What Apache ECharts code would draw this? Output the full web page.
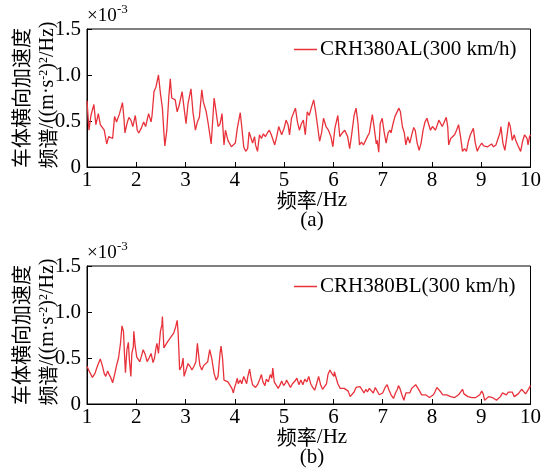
<!DOCTYPE html>
<html>
<head>
<meta charset="utf-8">
<script src="https://cdn.jsdelivr.net/npm/echarts@6.0.0/dist/echarts.min.js"></script>
<style>
html,body{margin:0;padding:0;background:#fff;}
#chart{width:544px;height:471px;}
</style>
</head>
<body>
<div id="chart"></div>
<script>
// ---- data (PSD in units of 1e-3 (m/s^2)^2/Hz) ----
const seriesNames = ['CRH380AL(300 km/h)', 'CRH380BL(300 km/h)'];
const panelLabels = ['(a)', '(b)'];
const xAxisTitle = '频率/Hz';
const yTitleLine1 = '车体横向加速度';
const yTickLabels = ['0', '0.5', '1.0', '1.5'];

const freqA = [1.00,1.04,1.08,1.14,1.18,1.23,1.27,1.31,1.35,1.40,1.44,1.48,1.52,1.56,1.60,1.66,1.72,1.75,1.77,1.81,1.85,1.89,1.93,1.98,2.02,2.05,2.10,2.15,2.19,2.25,2.30,2.32,2.36,2.40,2.45,2.49,2.53,2.56,2.58,2.62,2.66,2.69,2.72,2.76,2.79,2.83,2.87,2.93,2.97,3.01,3.05,3.11,3.15,3.20,3.24,3.28,3.33,3.36,3.42,3.46,3.52,3.58,3.62,3.66,3.70,3.74,3.78,3.81,3.86,3.93,3.97,4.01,4.05,4.11,4.14,4.18,4.22,4.26,4.29,4.31,4.36,4.40,4.42,4.46,4.50,4.54,4.58,4.62,4.66,4.70,4.74,4.78,4.81,4.85,4.89,4.95,5.00,5.04,5.08,5.11,5.15,5.19,5.23,5.27,5.31,5.35,5.39,5.43,5.47,5.51,5.55,5.60,5.64,5.68,5.72,5.76,5.80,5.85,5.90,5.95,5.99,6.03,6.09,6.13,6.18,6.23,6.29,6.33,6.37,6.42,6.46,6.50,6.53,6.57,6.61,6.65,6.69,6.73,6.79,6.83,6.87,6.89,6.92,6.95,6.99,7.03,7.07,7.11,7.15,7.17,7.21,7.25,7.29,7.33,7.36,7.40,7.44,7.47,7.51,7.55,7.59,7.63,7.66,7.70,7.74,7.78,7.82,7.86,7.90,7.93,7.97,8.01,8.05,8.07,8.11,8.14,8.18,8.21,8.25,8.29,8.32,8.34,8.38,8.42,8.46,8.50,8.54,8.58,8.62,8.66,8.70,8.74,8.78,8.84,8.88,8.92,8.96,9.01,9.05,9.09,9.13,9.17,9.21,9.25,9.30,9.33,9.38,9.40,9.44,9.48,9.52,9.56,9.59,9.63,9.67,9.70,9.74,9.78,9.80,9.84,9.88,9.93,9.95,9.98,10.00];
const valA = [0.72,0.40,0.56,0.68,0.46,0.58,0.46,0.44,0.40,0.25,0.33,0.35,0.31,0.55,0.49,0.58,0.70,0.53,0.37,0.47,0.54,0.51,0.44,0.56,0.40,0.37,0.42,0.49,0.44,0.58,0.49,0.56,0.82,0.87,1.00,0.80,0.64,0.38,0.23,0.40,0.76,0.96,0.75,0.77,0.73,0.60,0.67,0.82,0.64,0.47,0.69,0.85,0.60,0.40,0.49,0.54,0.84,0.71,0.60,0.47,0.25,0.75,0.60,0.44,0.47,0.58,0.24,0.40,0.29,0.22,0.22,0.26,0.42,0.59,0.44,0.22,0.17,0.20,0.38,0.37,0.26,0.33,0.24,0.17,0.35,0.31,0.36,0.33,0.37,0.40,0.35,0.37,0.24,0.33,0.44,0.35,0.42,0.51,0.46,0.35,0.53,0.51,0.64,0.49,0.40,0.47,0.51,0.35,0.60,0.56,0.64,0.73,0.60,0.44,0.28,0.37,0.53,0.44,0.40,0.33,0.22,0.42,0.56,0.33,0.37,0.40,0.33,0.20,0.35,0.56,0.64,0.47,0.24,0.27,0.24,0.22,0.33,0.37,0.57,0.42,0.25,0.29,0.16,0.47,0.53,0.38,0.26,0.37,0.40,0.37,0.47,0.55,0.57,0.64,0.60,0.44,0.37,0.24,0.33,0.26,0.35,0.43,0.40,0.26,0.18,0.26,0.40,0.49,0.53,0.47,0.40,0.44,0.46,0.40,0.46,0.51,0.49,0.44,0.49,0.54,0.44,0.24,0.31,0.29,0.35,0.40,0.46,0.33,0.17,0.20,0.17,0.28,0.35,0.42,0.26,0.17,0.22,0.26,0.23,0.22,0.22,0.22,0.25,0.22,0.24,0.29,0.37,0.44,0.26,0.18,0.33,0.49,0.44,0.29,0.35,0.29,0.24,0.26,0.17,0.28,0.35,0.31,0.24,0.33,0.35];

const freqB = [1.00,1.05,1.11,1.16,1.21,1.27,1.31,1.35,1.38,1.42,1.44,1.48,1.52,1.56,1.60,1.64,1.68,1.71,1.74,1.76,1.78,1.81,1.84,1.86,1.89,1.91,1.94,1.95,1.98,2.01,2.03,2.07,2.10,2.14,2.18,2.22,2.26,2.30,2.34,2.37,2.40,2.42,2.45,2.49,2.52,2.53,2.56,2.60,2.64,2.68,2.72,2.76,2.80,2.83,2.85,2.88,2.92,2.95,2.97,3.01,3.05,3.09,3.13,3.17,3.21,3.24,3.27,3.29,3.33,3.37,3.41,3.45,3.49,3.53,3.58,3.62,3.66,3.70,3.72,3.75,3.78,3.82,3.86,3.90,3.94,3.97,3.99,4.02,4.05,4.07,4.11,4.14,4.18,4.21,4.24,4.26,4.30,4.33,4.36,4.40,4.42,4.46,4.50,4.54,4.57,4.61,4.64,4.68,4.72,4.75,4.77,4.80,4.84,4.88,4.92,4.95,4.99,5.03,5.05,5.09,5.13,5.17,5.22,5.26,5.30,5.34,5.38,5.42,5.46,5.50,5.54,5.58,5.62,5.66,5.70,5.74,5.78,5.82,5.86,5.89,5.93,5.97,6.01,6.02,6.06,6.09,6.11,6.14,6.18,6.22,6.26,6.30,6.34,6.38,6.42,6.46,6.50,6.54,6.58,6.62,6.66,6.69,6.73,6.77,6.81,6.85,6.89,6.93,6.96,7.00,7.05,7.09,7.13,7.17,7.22,7.26,7.30,7.32,7.35,7.39,7.43,7.47,7.51,7.55,7.59,7.63,7.67,7.71,7.75,7.79,7.83,7.87,7.91,7.95,7.99,8.03,8.06,8.10,8.14,8.18,8.22,8.26,8.30,8.34,8.38,8.42,8.46,8.50,8.54,8.58,8.62,8.65,8.69,8.73,8.77,8.81,8.85,8.89,8.93,8.97,9.01,9.04,9.07,9.11,9.15,9.19,9.23,9.27,9.31,9.35,9.39,9.43,9.47,9.51,9.55,9.59,9.63,9.67,9.71,9.75,9.79,9.82,9.86,9.90,9.93,9.97,10.00];
const valB = [0.41,0.35,0.29,0.33,0.41,0.49,0.42,0.33,0.30,0.36,0.33,0.29,0.23,0.32,0.42,0.50,0.66,0.85,0.79,0.55,0.34,0.59,0.67,0.48,0.30,0.55,0.62,0.79,0.62,0.51,0.53,0.46,0.51,0.59,0.54,0.46,0.50,0.55,0.45,0.50,0.61,0.66,0.55,0.79,0.86,0.95,0.61,0.62,0.68,0.71,0.74,0.77,0.84,0.91,0.77,0.37,0.41,0.50,0.30,0.37,0.44,0.41,0.37,0.41,0.46,0.66,0.51,0.42,0.37,0.42,0.41,0.46,0.59,0.50,0.33,0.26,0.30,0.55,0.63,0.50,0.26,0.28,0.24,0.22,0.17,0.12,0.17,0.22,0.28,0.22,0.26,0.22,0.30,0.26,0.22,0.29,0.38,0.28,0.21,0.22,0.18,0.21,0.26,0.32,0.24,0.20,0.27,0.24,0.32,0.28,0.39,0.24,0.22,0.17,0.21,0.25,0.20,0.23,0.26,0.24,0.18,0.22,0.25,0.28,0.21,0.26,0.21,0.27,0.24,0.30,0.22,0.18,0.15,0.22,0.30,0.21,0.16,0.15,0.22,0.32,0.37,0.33,0.30,0.35,0.35,0.22,0.24,0.17,0.18,0.17,0.16,0.14,0.08,0.07,0.13,0.18,0.16,0.19,0.17,0.12,0.16,0.13,0.17,0.15,0.12,0.18,0.16,0.10,0.11,0.12,0.18,0.21,0.15,0.10,0.06,0.12,0.16,0.20,0.17,0.10,0.04,0.12,0.11,0.12,0.17,0.18,0.21,0.20,0.14,0.10,0.11,0.10,0.08,0.07,0.06,0.10,0.13,0.18,0.16,0.13,0.10,0.08,0.10,0.08,0.08,0.10,0.07,0.07,0.10,0.12,0.16,0.11,0.09,0.08,0.09,0.07,0.08,0.07,0.08,0.10,0.14,0.11,0.04,0.06,0.08,0.09,0.07,0.05,0.04,0.06,0.08,0.12,0.12,0.10,0.13,0.15,0.13,0.08,0.10,0.11,0.13,0.16,0.15,0.11,0.12,0.17,0.20];

// ---- chart ----
const RED = '#e8323b';
const SERIF = '"Liberation Serif","Noto Sans CJK SC",serif';
const CJK = '"Noto Sans CJK SC","Liberation Serif",sans-serif';
const panelTop = [29, 266];
const panelH = 138;

function pairs(xs, ys) { return xs.map((x, i) => [x, ys[i]]); }

const chart = echarts.init(document.getElementById('chart'), null, {renderer: 'canvas'});

const grids = [], xAxes = [], yAxes = [], series = [], legends = [], graphics = [];
[0, 1].forEach(i => {
  grids.push({left: 87, width: 447, top: panelTop[i], height: panelH, show: true,
    borderColor: '#000', borderWidth: 1, backgroundColor: 'transparent', containLabel: false});
  xAxes.push({type: 'value', gridIndex: i, min: 1, max: 10, interval: 1,
    axisLine: {show: true, onZero: false, lineStyle: {color: '#000', width: 1}},
    axisTick: {show: true, inside: true, length: 5, lineStyle: {color: '#000'}},
    axisLabel: {color: '#000', fontFamily: SERIF, fontSize: 21, margin: 3},
    splitLine: {show: false}});
  yAxes.push({type: 'value', gridIndex: i, min: 0, max: 1.5, interval: 0.5,
    axisLine: {show: true, lineStyle: {color: '#000', width: 1}},
    axisTick: {show: true, inside: true, length: 5, lineStyle: {color: '#000'}},
    axisLabel: {color: '#000', fontFamily: SERIF, fontSize: 21, margin: 6,
      formatter: v => yTickLabels[Math.round(v / 0.5)]},
    splitLine: {show: false}});
  series.push({name: seriesNames[i], type: 'line', xAxisIndex: i, yAxisIndex: i,
    data: i === 0 ? pairs(freqA, valA) : pairs(freqB, valB),
    showSymbol: false, symbol: 'none', lineStyle: {color: RED, width: 1.3},
    itemStyle: {color: RED}, animation: false});
  legends.push({data: [seriesNames[i]], left: 289, top: panelTop[i] + 5,
    icon: 'rect', itemWidth: 23, itemHeight: 1.5, itemGap: 5,
    textStyle: {color: '#000', fontFamily: SERIF, fontSize: 21, padding: [0, 0, 0, -2]}, selectedMode: false});

  const off = panelTop[i] - 29;
  // x10^-3 multiplier
  graphics.push({type: 'text', x: 87, y: 16 + off, style: {
    text: '×10', font: '19px ' + SERIF, fill: '#000', align: 'left', verticalAlign: 'middle'}});
  graphics.push({type: 'text', x: 117, y: 10 + off, style: {
    text: '-3', font: '13px ' + SERIF, fill: '#000', align: 'left', verticalAlign: 'middle'}});
  // y title line 1
  graphics.push({type: 'text', x: 21, y: 98 + off, rotation: Math.PI / 2, style: {
    text: yTitleLine1, font: '20px ' + CJK, fill: '#000', align: 'center', verticalAlign: 'middle'}});
  // y title line 2
  graphics.push({type: 'text', x: 48, y: 95 + off, rotation: Math.PI / 2, style: {
    text: '{c|频谱}{t|/((m·s}{s|-2}{t|)}{s|2}{t|/Hz)}', align: 'center', verticalAlign: 'middle',
    rich: {c: {fontFamily: CJK, fontSize: 20, fill: '#000'},
           t: {fontFamily: SERIF, fontSize: 20, fill: '#000'},
           s: {fontFamily: SERIF, fontSize: 12, fill: '#000', verticalAlign: 'top'}}}});
  // x axis title
  graphics.push({type: 'text', x: 312, y: 200 + off, style: {
    text: '{c|频率}{t|/Hz}', align: 'center', verticalAlign: 'middle',
    rich: {c: {fontFamily: CJK, fontSize: 20, fill: '#000'},
           t: {fontFamily: SERIF, fontSize: 21, fill: '#000'}}}});
  // panel label
  graphics.push({type: 'text', x: 312, y: 220 + off, style: {
    text: panelLabels[i], font: '21px ' + SERIF, fill: '#000', align: 'center', verticalAlign: 'middle'}});
});

chart.setOption({
  animation: false,
  backgroundColor: '#fff',
  grid: grids, xAxis: xAxes, yAxis: yAxes, series: series, legend: legends,
  graphic: graphics
});
</script>
</body>
</html>
